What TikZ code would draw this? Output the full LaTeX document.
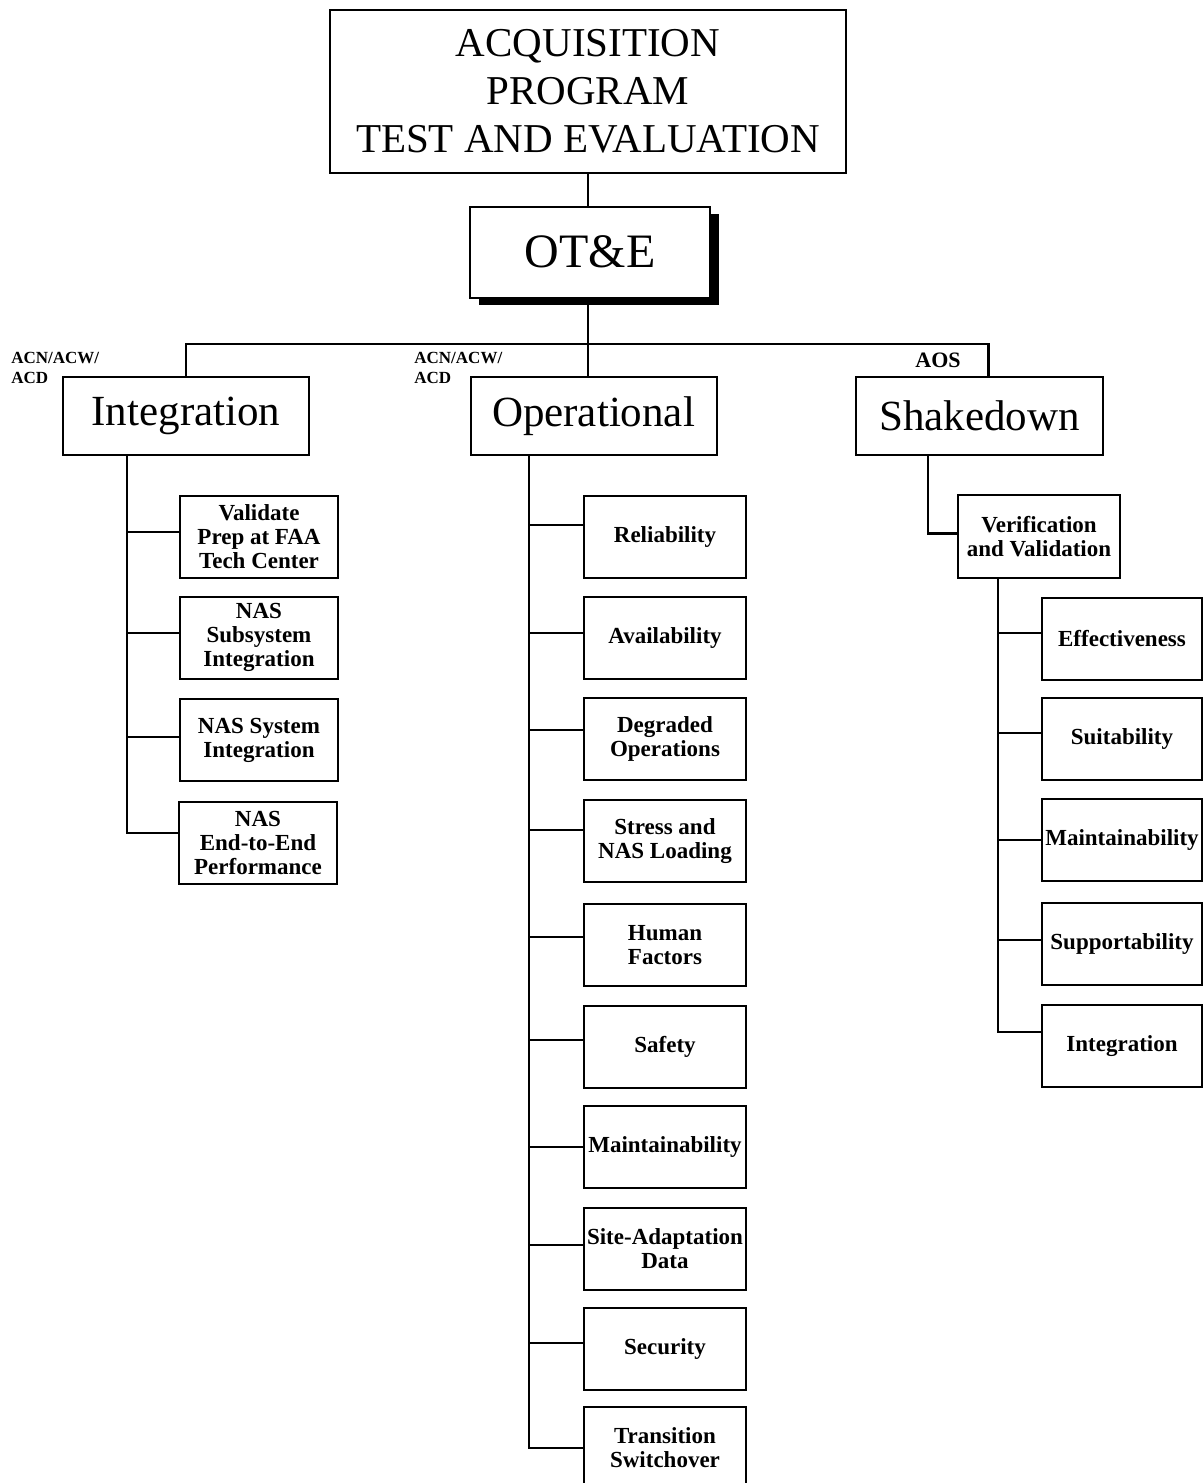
\documentclass[tikz,border=0pt]{standalone}
\usepackage{fontspec}
\setmainfont{Liberation Serif}
\usetikzlibrary{shadows}
\begin{document}
\begin{tikzpicture}[x=0.5pt,y=-0.5pt,
  box/.style={draw, line width=1pt, inner sep=0pt, align=center, fill=white},
  leafbox/.style={box, minimum width=81pt, minimum height=41pt, font=\fontsize{11.5}{12}\selectfont\bfseries},
  mainbox/.style={box, minimum width=123pt, minimum height=39pt, font=\fontsize{21.5}{25}\selectfont},
  conn/.style={line width=1.1pt},
  tag/.style={inner sep=0pt, align=left, font=\fontsize{8.5}{10}\selectfont\bfseries}]
\useasboundingbox (0,0) rectangle (1204,1483);
\clip (0,0) rectangle (1204,1483);

% top levels
\node[box, minimum width=258pt, minimum height=81.5pt, font=\fontsize{20.5}{24}\selectfont] (top) at (588,91.5) {ACQUISITION\\PROGRAM\\TEST AND EVALUATION};
\node[box, minimum width=120pt, minimum height=45.5pt, font=\fontsize{24}{28}\selectfont,
  drop shadow={shadow xshift=4.5pt, shadow yshift=-3.5pt, fill=black, opacity=1}] (ote) at (590,252) {OT\&E};

\node[mainbox] (integ) at (186,416) {Integration};
\node[mainbox] (ops) at (593.5,416) {Operational};
\node[mainbox, minimum width=123.5pt] (shk) at (979.5,416) {Shakedown};

\node[tag, anchor=west] (lab1) at (11,368) {ACN/ACW/\\ACD};
\node[tag, anchor=west] (lab2) at (414,368) {ACN/ACW/\\ACD};
\node[tag, font=\fontsize{11}{12}\selectfont\bfseries] (lab3) at (938,360) {AOS};

\coordinate (bus) at (588,344);
\draw[conn] (top.south) -- (top.south |- ote.north);
\draw[conn] (bus |- ote.south) -- (bus);
\draw[conn] (integ.north) |- (bus) -| ([xshift=4.5pt]shk.north);
\draw[conn] (bus) -- (bus |- ops.north);

% Integration branch
\coordinate (isp) at (127,0);
\node[leafbox, minimum width=79pt] (i1) at (259,537) {Validate\\Prep at FAA\\Tech Center};
\node[leafbox, minimum width=79pt] (i2) at (259,637.5) {NAS\\Subsystem\\Integration};
\node[leafbox, minimum width=79pt] (i3) at (259,740) {NAS System\\Integration};
\node[leafbox, minimum width=79pt] (i4) at (258,843) {NAS\\End-to-End\\Performance};
\draw[conn] (integ.south -| isp) |- ([yshift=2.5pt]i1.west);
\draw[conn] (integ.south -| isp) |- ([yshift=2.25pt]i2.west);
\draw[conn] (integ.south -| isp) |- ([yshift=1.5pt]i3.west);
\draw[conn] (integ.south -| isp) |- ([yshift=5pt]i4.west);

% Operational branch
\coordinate (osp) at (529,0);
\node[leafbox] (o1) at (665,537) {Reliability};
\node[leafbox] (o2) at (665,638) {Availability};
\node[leafbox] (o3) at (665,739) {Degraded\\Operations};
\node[leafbox] (o4) at (665,841) {Stress and\\NAS Loading};
\node[leafbox] (o5) at (665,945) {Human\\Factors};
\node[leafbox] (o6) at (665,1047) {Safety};
\node[leafbox] (o7) at (665,1147) {Maintainability};
\node[leafbox] (o8) at (665,1249) {Site-Adaptation\\Data};
\node[leafbox] (o9) at (665,1349) {Security};
\node[leafbox] (o10) at (665,1448) {Transition\\Switchover};
\draw[conn] (ops.south -| osp) |- ([yshift=6pt]o1.west);
\draw[conn] (ops.south -| osp) |- ([yshift=2.5pt]o2.west);
\draw[conn] (ops.south -| osp) |- ([yshift=4.5pt]o3.west);
\draw[conn] (ops.south -| osp) |- ([yshift=5.5pt]o4.west);
\draw[conn] (ops.south -| osp) |- ([yshift=4pt]o5.west);
\draw[conn] (ops.south -| osp) |- ([yshift=3.5pt]o6.west);
\draw[conn] (ops.south -| osp) |- (o7.west);
\draw[conn] (ops.south -| osp) |- ([yshift=2pt]o8.west);
\draw[conn] (ops.south -| osp) |- ([yshift=3pt]o9.west);
\draw[conn] (ops.south -| osp) |- (o10.west);

% Shakedown branch
\coordinate (ssp) at (928,0);
\node[leafbox, minimum height=41.5pt] (ver) at (1039,536.5) {Verification\\and Validation};
\draw[conn] (shk.south -| ssp) |- ([yshift=1.5pt]ver.west);
\coordinate (vsp) at (998,0);
\node[leafbox, minimum width=80pt] (s1) at (1122,638.5) {Effectiveness};
\node[leafbox, minimum width=80pt] (s2) at (1122,738.5) {Suitability};
\node[leafbox, minimum width=80pt] (s3) at (1122,840) {Maintainability};
\node[leafbox, minimum width=80pt] (s4) at (1122,943.5) {Supportability};
\node[leafbox, minimum width=80pt] (s5) at (1122,1046) {Integration};
\draw[conn] (ver.south -| vsp) |- ([yshift=2.75pt]s1.west);
\draw[conn] (ver.south -| vsp) |- ([yshift=2.75pt]s2.west);
\draw[conn] (ver.south -| vsp) |- (s3.west);
\draw[conn] (ver.south -| vsp) |- ([yshift=1.75pt]s4.west);
\draw[conn] (ver.south -| vsp) |- ([yshift=7pt]s5.west);
\end{tikzpicture}
\end{document}
